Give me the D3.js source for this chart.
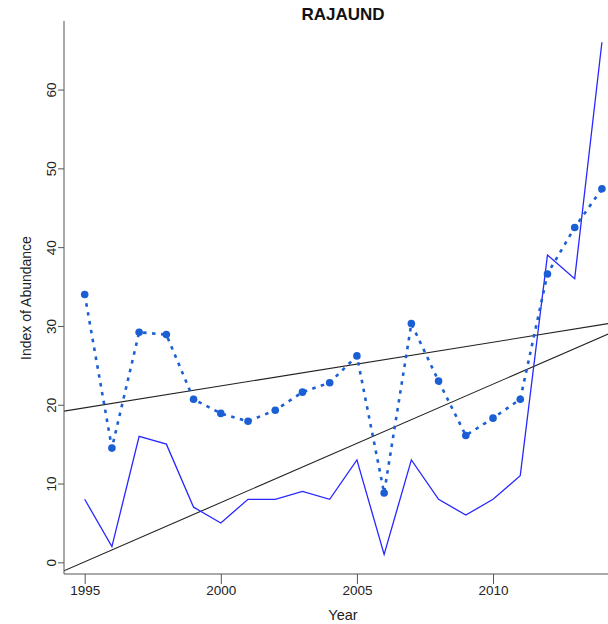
<!DOCTYPE html>
<html>
<head>
<meta charset="utf-8">
<script src="https://cdn.jsdelivr.net/npm/d3@7"></script>
<style>
  body { margin: 0; background: #fff; }
  svg { display: block; font-family: "Liberation Sans", Arial, sans-serif; }
  .axis path, .axis line { stroke: #555; }
  .axis text { fill: #222; }
</style>
</head>
<body>
<div id="chart"></div>
<script>
var years = [1995, 1996, 1997, 1998, 1999, 2000, 2001, 2002, 2003, 2004,
             2005, 2006, 2007, 2008, 2009, 2010, 2011, 2012, 2013, 2014];
var observed = [8, 2, 16, 15, 7, 5, 8, 8, 9, 8, 13, 1, 13, 8, 6, 8, 11, 39, 36, 66];
var fitted = [34.0, 14.5, 29.2, 28.9, 20.7, 18.9, 17.9, 19.3, 21.6, 22.8,
              26.2, 8.8, 30.3, 23.0, 16.1, 18.3, 20.7, 36.6, 42.5, 47.4];
var xTicks = [1995, 2000, 2005, 2010];
var yTicks = [0, 10, 20, 30, 40, 50, 60];

var width = 608, height = 624;
var plotLeft = 64, plotTop = 21, plotBottom = 574;

var svg = d3.select('#chart').append('svg').attr('width', width).attr('height', height);

var x = d3.scaleLinear().domain([1994.24, 2014.76]).range([plotLeft, 622.6]);
var y = d3.scaleLinear().domain([-1.48, 68.7]).range([plotBottom, plotTop]);

svg.append('defs').append('clipPath').attr('id', 'plot')
  .append('rect').attr('x', plotLeft).attr('y', plotTop)
  .attr('width', width - plotLeft).attr('height', plotBottom - plotTop);

var plot = svg.append('g').attr('clip-path', 'url(#plot)');

// least squares line across the plot
var fitLine = function(xs, ys) {
  var mx = d3.mean(xs), my = d3.mean(ys), sxy = 0, sxx = 0;
  xs.forEach(function(v, i) { sxy += (v - mx) * (ys[i] - my); sxx += (v - mx) * (v - mx); });
  var b = sxy / sxx, a = my - b * mx;
  var d = x.domain();
  return [[d[0], a + b * d[0]], [d[1], a + b * d[1]]];
};

var line = d3.line().x(function(d) { return x(d[0]); }).y(function(d) { return y(d[1]); });

[fitLine(years, fitted), fitLine(years, observed)].forEach(function(seg) {
  plot.append('path').datum(seg).attr('d', line)
    .attr('fill', 'none').attr('stroke', '#222').attr('stroke-width', 1.1);
});

plot.append('path').datum(years.map(function(yr, i) { return [yr, observed[i]]; }))
  .attr('d', line).attr('fill', 'none').attr('stroke', '#2727ff').attr('stroke-width', 1.3);

plot.append('path').datum(years.map(function(yr, i) { return [yr, fitted[i]]; }))
  .attr('d', line).attr('fill', 'none').attr('stroke', '#1a5fd4')
  .attr('stroke-width', 2.6).attr('stroke-dasharray', '3.5,5.5');

plot.selectAll('circle.pt').data(years).enter().append('circle')
  .attr('class', 'pt')
  .attr('cx', function(d) { return x(d); })
  .attr('cy', function(d, i) { return y(fitted[i]); })
  .attr('r', 3.8).attr('fill', '#1a5fd4');

// axes
var xAxis = svg.append('g').attr('class', 'axis').attr('transform', 'translate(0,' + plotBottom + ')')
  .call(d3.axisBottom(x).tickValues(xTicks).tickFormat(d3.format('d')).tickSize(10).tickPadding(1));
xAxis.select('.domain').attr('d', 'M' + plotLeft + ',0H' + width);
xAxis.selectAll('text').attr('font-size', 13.5);

var yAxis = svg.append('g').attr('class', 'axis').attr('transform', 'translate(' + plotLeft + ',0)')
  .call(d3.axisLeft(y).tickValues(yTicks).tickSize(6));
yAxis.select('.domain').attr('d', 'M0,' + plotTop + 'V' + plotBottom);
yAxis.selectAll('.tick text')
  .attr('x', 0).attr('dy', null)
  .attr('transform', 'translate(-13,0) rotate(-90)')
  .attr('text-anchor', 'middle').attr('dominant-baseline', 'central')
  .attr('font-size', 13.5);

svg.append('text').attr('x', 343).attr('y', 20).attr('text-anchor', 'middle')
  .attr('font-weight', 'bold').attr('font-size', 17).attr('fill', '#111').text('RAJAUND');

svg.append('text').attr('x', 343).attr('y', 620).attr('text-anchor', 'middle')
  .attr('font-size', 14.5).attr('fill', '#222').text('Year');

svg.append('text').attr('transform', 'translate(31,298) rotate(-90)').attr('text-anchor', 'middle')
  .attr('font-size', 14).attr('fill', '#222').text('Index of Abundance');
</script>
</body>
</html>
